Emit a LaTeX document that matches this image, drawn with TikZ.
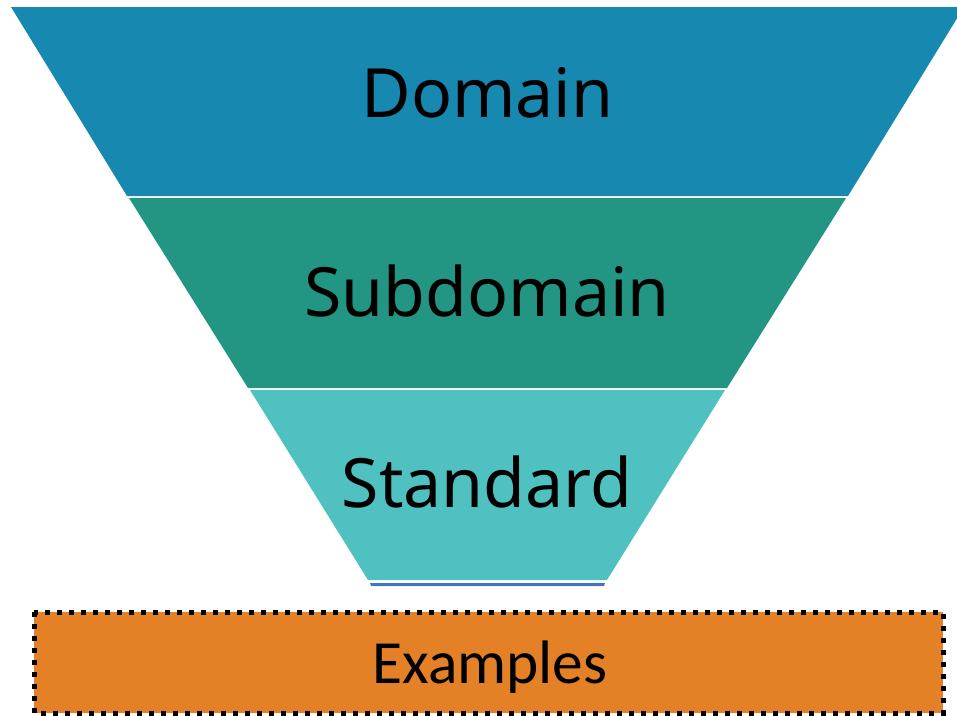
\documentclass[tikz,border=0pt]{standalone}
\usepackage{fontspec}
\setmainfont{Noto Sans}
\newfontfamily\exfont{Carlito}
\definecolor{cdomain}{HTML}{1789B0}
\definecolor{csub}{HTML}{229683}
\definecolor{cstd}{HTML}{4FC1C0}
\definecolor{cline}{HTML}{4472C4}
\definecolor{corange}{HTML}{E48126}
\begin{document}
\begin{tikzpicture}[x=1pt,y=-1pt,
  lbl/.style={anchor=base,inner sep=0pt,font=\fontsize{68}{70}\selectfont},
  exlbl/.style={anchor=base,inner sep=0pt,font=\exfont\fontsize{61.4}{64}\selectfont},
  exbox/.style={fill=corange,draw=black,line width=5pt,dash pattern=on 5pt off 7pt}]
\useasboundingbox (0,0) rectangle (957,715);
% funnel levels
\fill[cdomain] (11,7) -- (964,7) -- (848,196) -- (127,196) -- cycle;
\fill[csub] (129,198) -- (846,198) -- (727,388) -- (248,388) -- cycle;
\fill[cstd] (250,390) -- (725,390) -- (607,580) -- (368,580) -- cycle;
\fill[cline] (370,583) -- (605,583) -- (604,586) -- (371,586) -- cycle;
% labels
\node[lbl] (domain) at (487.5,117) {Domain};
\node[lbl] (subdomain) at (487,316) {Subdomain};
\node[lbl] (standard) at (487,507) {Standard};
% examples box
\draw[exbox] (34,612) rectangle (943,713);
\node[exlbl] (examples) at (490,683) {Examples};
\end{tikzpicture}
\end{document}
